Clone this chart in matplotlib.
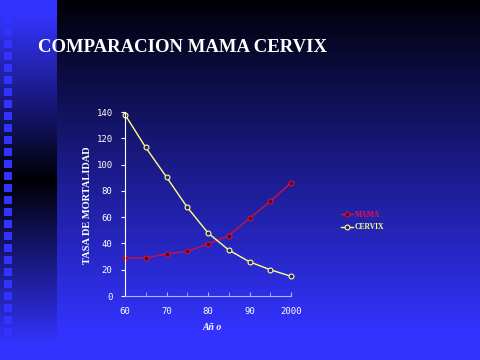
import numpy as np
import matplotlib
matplotlib.use("Agg")
import matplotlib.pyplot as plt
from matplotlib.patches import Rectangle

years = [1960, 1965, 1970, 1975, 1980, 1985, 1990, 1995, 2000]
mama = [29, 29, 32, 34, 39.5, 46, 59, 72, 86]
cervix = [138, 113, 90.5, 67.5, 48, 35, 26, 20, 15]
xtick_vals = [1960, 1970, 1980, 1990, 2000]
xtick_labels = ["60", "70", "80", "90", "2000"]
ytick_vals = [0, 20, 40, 60, 80, 100, 120, 140]

W, H = 480, 360
fig = plt.figure(figsize=(4.8, 3.6), dpi=100)

# background
bg = fig.add_axes([0, 0, 1, 1])
bg.set_xlim(0, W)
bg.set_ylim(H, 0)
bg.axis("off")
yy = np.linspace(0, 1, H)[:, None]
top = np.array([0, 0, 0.02])
bot = np.array([0.2, 0.2, 1.0])
t = np.clip(yy / 0.92, 0, 1) ** 0.95
main = top[None, None, :] * (1 - t[..., None]) + bot[None, None, :] * t[..., None]
main = np.repeat(main, 2, axis=1)
bg.imshow(main, extent=[57, W, H, 0], aspect="auto", zorder=0)
# left strip
ys = np.arange(H)
s = np.abs(ys - 180) / 165.0
s = np.clip(s, 0, 1)[:, None]
strip = top[None, None, :] * (1 - s[..., None]) + bot[None, None, :] * s[..., None]
strip = np.repeat(strip, 2, axis=1)
bg.imshow(strip, extent=[0, 57, H, 0], aspect="auto", zorder=0)
for k in range(29):
    y0 = 4 + 12 * k
    bg.add_patch(Rectangle((4, y0), 8, 8, color="#3333ff", zorder=1, lw=0))

fig.text(38 / W, 1 - 47 / H, "COMPARACION MAMA CERVIX", family="Liberation Serif",
         weight="bold", fontsize=13.5, color="white", va="center", ha="left")

ax = fig.add_axes([125 / W, 1 - 296 / H, (291 - 125) / W, (296 - 112) / H])
ax.patch.set_alpha(0)
ax.plot(years, mama, color="#cc1144", lw=1, marker="o", ms=3.5, mfc="#550022",
        mec="#cc1144", mew=0.8, label="MAMA", clip_on=False)
ax.plot(years, cervix, color="#ffff88", lw=1, marker="o", ms=3.5, mfc="#222288",
        mec="#ffff88", mew=0.8, label="CERVIX", clip_on=False)
ax.set_xlim(1960, 2000)
ax.set_ylim(0, 140)
ax.set_xticks(xtick_vals)
ax.set_xticklabels(xtick_labels)
ax.set_xticks(years, minor=True)
ax.set_yticks(ytick_vals)
for sp in ["top", "right"]:
    ax.spines[sp].set_visible(False)
ax.spines["left"].set_color("white")
ax.spines["bottom"].set_color("#aabbff")
ax.tick_params(axis="x", which="both", direction="in", length=3, color="#aabbff",
               labelsize=6.5, labelcolor="white", pad=8)
ax.tick_params(axis="y", direction="out", length=3, color="white",
               labelsize=6.5, labelcolor="white", pad=6)
for lab in ax.get_xticklabels() + ax.get_yticklabels():
    lab.set_family("DejaVu Sans Mono")

fig.text(88 / W, 1 - 205 / H, "TASA DE MORTALIDAD", family="Liberation Serif",
         weight="bold", fontsize=7.5, color="white", rotation=90, va="center", ha="center")
fig.text(212 / W, 1 - 327 / H, "Añ o", family="Liberation Serif", weight="bold",
         style="italic", fontsize=7, color="white", va="center", ha="center")

leg = ax.legend(loc="center left", bbox_to_anchor=(334 / W, 1 - 221 / H),
                bbox_transform=fig.transFigure, frameon=False, fontsize=5.5,
                handlelength=1.6, handletextpad=0.2, labelspacing=0.6)
for txt, c in zip(leg.get_texts(), ["#ee1144", "#ffff88"]):
    txt.set_color(c)
    txt.set_family("Liberation Serif")
    txt.set_weight("bold")

fig.savefig("out.png", dpi=100)
